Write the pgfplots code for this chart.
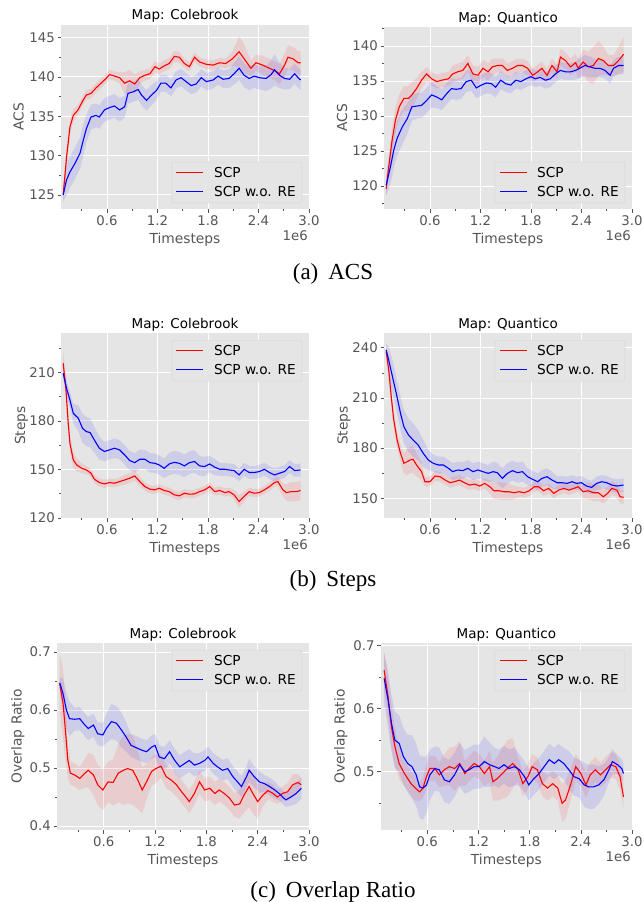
\documentclass[border=0pt]{standalone}
\usepackage{fontspec}
\setmainfont{Liberation Serif}
\newfontfamily\dv{DejaVu Sans}
\usepackage{pgfplots}
\usepackage{pgfplotstable}
\pgfplotsset{compat=1.18}
\usepgfplotslibrary{fillbetween}
\definecolor{bg}{HTML}{E5E5E5}
\definecolor{tk}{HTML}{555555}
\definecolor{lgd}{HTML}{D4D4D4}

\pgfplotstableread{
x m d
0.08 125.0 0.8
0.12 129.8 1.2
0.16 133.6 1.0
0.20 135.1 0.8
0.256 135.8 0.6
0.315 137.0 0.6
0.355 137.7 0.6
0.41 137.9 0.6
0.47 138.6 0.6
0.53 139.2 0.6
0.59 139.8 0.6
0.63 140.3 0.6
0.69 140.1 0.6
0.75 139.9 0.7
0.81 139.2 1.4
0.87 139.5 1.4
0.93 139.1 1.2
0.99 139.9 0.8
1.05 140.2 0.7
1.11 140.4 0.7
1.17 141.3 0.7
1.22 141.0 0.7
1.28 141.4 0.7
1.34 141.7 0.7
1.40 142.6 0.7
1.46 142.5 0.7
1.52 141.7 0.6
1.58 141.3 0.6
1.64 142.5 0.6
1.70 141.9 0.6
1.78 141.6 0.6
1.86 141.5 0.6
1.94 141.8 0.6
2.01 141.7 0.6
2.09 142.3 0.9
2.17 143.2 2.0
2.23 142.3 1.8
2.31 141.1 1.0
2.37 141.8 1.0
2.45 141.5 1.2
2.53 141.1 1.2
2.59 140.8 1.2
2.65 140.4 1.3
2.71 141.5 1.5
2.75 142.5 1.5
2.81 142.3 1.5
2.87 141.8 1.5
2.90 141.8 1.5
}\Aar
\pgfplotstableread{
x m d
0.08 125.0 0.8
0.12 126.9 2.0
0.16 127.9 2.0
0.22 129.0 2.0
0.28 130.3 2.0
0.32 132.0 2.0
0.355 133.4 1.8
0.41 134.9 1.6
0.47 135.1 1.5
0.51 134.9 1.5
0.57 135.8 1.5
0.63 136.1 1.5
0.69 136.3 1.5
0.75 135.8 1.5
0.81 136.2 1.4
0.85 137.9 1.3
0.91 138.1 1.3
0.97 138.4 1.3
1.01 137.7 1.3
1.07 137.0 1.3
1.13 137.7 1.3
1.19 138.3 1.2
1.24 139.2 1.1
1.30 139.2 1.1
1.36 138.6 1.1
1.42 139.6 1.1
1.48 139.9 1.1
1.54 139.4 1.1
1.60 138.9 1.1
1.66 139.1 1.1
1.72 139.9 1.1
1.78 139.4 1.1
1.86 139.6 1.1
1.92 140.1 1.1
1.98 139.7 1.1
2.05 139.8 1.2
2.11 140.4 1.4
2.17 141.1 1.5
2.23 140.2 1.5
2.29 139.8 1.5
2.35 140.1 1.5
2.41 139.9 1.5
2.49 139.8 1.6
2.55 140.3 1.8
2.59 140.9 2.0
2.65 140.2 1.6
2.71 139.8 1.4
2.77 139.7 1.3
2.83 140.4 1.3
2.87 139.9 1.3
2.90 139.6 1.3
}\Aab
\pgfplotstableread{
x m d
0.08 119.6 1.0
0.11 122.7 1.5
0.15 126.5 1.8
0.19 129.4 1.8
0.235 131.3 1.8
0.29 132.5 1.8
0.345 132.5 1.8
0.385 133.0 1.8
0.44 133.9 1.5
0.50 135.1 1.2
0.56 136.0 1.0
0.62 135.3 1.0
0.68 134.9 1.0
0.74 135.1 1.0
0.82 135.3 1.0
0.87 136.0 1.2
0.93 136.3 1.2
0.99 136.5 1.2
1.05 137.5 1.2
1.11 136.0 1.2
1.17 135.8 1.2
1.23 136.8 1.2
1.29 136.3 1.2
1.34 137.0 1.2
1.40 137.2 1.0
1.46 137.2 1.0
1.52 136.5 1.0
1.58 136.8 1.0
1.64 137.2 1.0
1.70 137.2 1.0
1.76 136.8 1.0
1.82 135.8 1.0
1.88 136.3 1.0
1.93 136.8 1.0
1.99 135.8 1.0
2.05 137.2 1.0
2.11 136.3 1.0
2.15 138.4 1.2
2.21 137.9 1.2
2.27 137.0 1.2
2.33 137.6 1.3
2.36 136.8 1.4
2.42 137.7 1.8
2.48 137.0 2.2
2.54 137.2 2.6
2.60 138.2 2.5
2.66 137.9 2.0
2.72 137.2 1.5
2.78 137.2 1.5
2.84 137.9 2.0
2.90 138.8 2.5
}\Abr
\pgfplotstableread{
x m d
0.08 120.1 1.5
0.13 122.7 2.5
0.17 125.1 2.5
0.21 126.8 2.5
0.27 128.4 2.5
0.33 129.6 2.2
0.385 131.3 2.0
0.44 131.4 1.8
0.50 131.5 1.8
0.56 132.2 1.8
0.62 133.0 1.8
0.68 132.7 1.6
0.74 132.3 1.5
0.80 133.2 1.5
0.855 133.9 1.5
0.91 133.8 1.5
0.97 133.9 1.5
1.03 134.9 1.5
1.09 135.1 1.5
1.15 134.0 1.5
1.21 134.4 1.5
1.27 134.7 1.5
1.33 134.6 1.5
1.38 134.1 1.5
1.44 135.1 1.3
1.50 134.6 1.2
1.56 134.4 1.2
1.62 135.1 1.2
1.68 134.9 1.2
1.74 135.3 1.2
1.80 135.6 1.2
1.85 135.3 1.2
1.91 135.5 1.2
1.97 135.1 1.2
2.03 135.3 1.2
2.09 136.0 1.2
2.15 136.5 1.2
2.21 136.3 1.2
2.27 136.3 1.2
2.33 136.5 1.3
2.38 136.8 1.4
2.44 137.2 1.5
2.50 137.0 1.5
2.56 136.8 1.3
2.62 136.8 1.2
2.68 136.5 1.2
2.74 135.8 1.2
2.78 136.8 1.2
2.84 137.2 1.2
2.90 137.2 1.2
}\Abb
\pgfplotstableread{
x m d
0.08 215.6 8
0.11 201.2 6
0.14 178.5 5
0.16 166.2 5
0.20 155.9 5
0.24 152.8 4
0.30 150.7 3
0.355 149.7 2.5
0.41 147.7 2.5
0.45 144.0 2.5
0.51 141.9 2.5
0.57 141.1 2.5
0.63 141.9 2.5
0.69 141.5 2.5
0.75 142.5 2.5
0.81 143.5 3
0.87 144.6 3
0.93 146.0 3
0.99 142.5 3
1.05 139.4 2.5
1.11 137.8 2.5
1.17 137.4 2.5
1.22 138.4 2.5
1.28 137.0 2.5
1.34 136.3 2.5
1.40 134.3 2.5
1.46 133.7 2.5
1.52 135.3 2.5
1.58 134.7 2.5
1.64 134.9 2.5
1.70 136.3 2.5
1.76 137.4 2.5
1.82 139.4 2.5
1.88 136.3 2.5
1.94 137.0 2.5
2.00 135.7 2.5
2.05 136.3 2.5
2.11 134.3 3
2.17 130.2 4
2.23 133.3 3
2.29 136.3 2.5
2.35 135.3 2.5
2.41 135.7 2.5
2.47 137.4 2.5
2.53 139.4 2.5
2.59 141.9 2.5
2.63 142.5 3
2.69 137.4 4
2.73 135.7 5
2.79 136.3 6
2.85 136.3 6
2.90 137.0 6
}\Bar
\pgfplotstableread{
x m d
0.08 209.4 3
0.12 200.1 5
0.16 192.9 5
0.20 184.7 6
0.26 181.6 8
0.31 175.4 9
0.355 173.4 9
0.40 172.8 9
0.45 168.2 8
0.51 163.1 7
0.57 161.1 6
0.63 162.1 6
0.69 163.1 6
0.75 162.1 6
0.81 159.0 6
0.87 155.5 6
0.93 154.2 6
0.99 156.3 6
1.05 156.3 6
1.11 154.2 6
1.17 153.8 6
1.22 152.8 6
1.28 150.7 6
1.34 153.4 7
1.40 154.4 7
1.46 153.8 7
1.52 152.2 7
1.58 154.2 7
1.64 154.9 7
1.70 152.2 6
1.76 151.8 6
1.82 153.4 5
1.88 151.4 5
1.94 150.1 4
2.00 150.1 4
2.05 149.7 4
2.11 149.3 4
2.17 146.6 4
2.23 150.1 4
2.29 148.1 4
2.35 148.1 4
2.41 148.7 4
2.47 150.1 4
2.53 148.1 4
2.59 146.6 4
2.65 147.7 4
2.71 148.7 4
2.77 151.8 4
2.83 149.3 4
2.90 149.7 4
}\Bab
\pgfplotstableread{
x m d
0.08 237.6 3
0.11 226.7 5
0.14 210.7 5
0.17 196.8 5
0.21 184.8 5
0.25 176.9 5
0.29 170.9 6
0.33 171.9 8
0.365 172.9 8
0.40 173.3 8
0.44 169.9 7
0.50 165.9 5
0.54 159.9 3
0.60 159.9 3
0.66 163.3 3
0.72 162.9 3
0.78 160.9 3
0.84 159.3 3
0.89 159.9 3
0.95 160.9 3
1.01 159.3 3
1.07 157.9 3
1.13 158.5 3
1.19 157.3 3
1.25 158.9 3
1.31 156.9 4
1.36 154.5 5
1.42 154.5 5
1.48 153.9 5
1.54 153.9 5
1.60 153.3 4
1.66 153.9 3
1.72 153.3 3
1.78 154.5 3
1.84 156.9 3
1.89 156.9 3
1.95 154.5 3
2.01 155.9 3
2.07 152.9 3
2.13 154.9 3
2.19 155.9 3
2.25 154.9 3
2.31 155.9 3
2.36 156.9 3
2.42 153.9 4
2.48 154.5 5
2.54 153.3 5
2.60 153.3 5
2.66 150.9 4
2.71 152.9 4
2.76 155.9 4
2.82 154.9 4
2.86 150.9 4
2.90 150.6 4
}\Bbr
\pgfplotstableread{
x m d
0.08 238.6 4
0.11 232.6 8
0.15 223.7 10
0.20 212.7 10
0.25 200.8 10
0.29 192.8 10
0.345 187.8 10
0.40 184.8 10
0.46 181.8 9
0.52 176.9 8
0.58 172.9 6
0.64 170.9 5
0.70 169.9 5
0.76 169.9 5
0.82 167.9 5
0.87 165.9 5
0.93 166.9 5
0.99 166.5 5
1.05 167.9 5
1.11 165.9 5
1.17 166.9 5
1.23 165.9 5
1.29 164.9 5
1.35 165.9 6
1.40 165.3 6
1.46 161.9 6
1.52 164.9 6
1.58 166.5 6
1.64 165.3 6
1.70 165.9 6
1.76 162.9 5
1.82 161.3 5
1.88 159.9 5
1.93 161.9 5
1.99 162.9 5
2.05 160.9 5
2.11 159.3 4
2.17 159.3 4
2.23 158.9 4
2.29 159.9 4
2.34 158.9 4
2.40 159.3 4
2.46 157.3 4
2.52 156.5 4
2.58 158.9 4
2.64 159.9 4
2.70 159.3 4
2.76 157.9 4
2.82 157.3 4
2.90 157.9 4
}\Bbb
\pgfplotstableread{
x m d
0.086 0.645 0.05
0.125 0.611 0.06
0.156 0.559 0.05
0.18 0.514 0.03
0.21 0.491 0.02
0.26 0.488 0.02
0.32 0.482 0.02
0.38 0.491 0.025
0.42 0.496 0.03
0.48 0.488 0.035
0.53 0.471 0.035
0.59 0.462 0.035
0.65 0.476 0.035
0.71 0.475 0.04
0.77 0.491 0.05
0.83 0.496 0.06
0.88 0.499 0.06
0.94 0.496 0.06
1.00 0.479 0.05
1.05 0.462 0.04
1.10 0.476 0.03
1.16 0.494 0.025
1.21 0.499 0.025
1.27 0.503 0.02
1.33 0.485 0.02
1.39 0.479 0.02
1.45 0.471 0.02
1.51 0.459 0.02
1.56 0.450 0.02
1.60 0.442 0.02
1.66 0.456 0.02
1.72 0.476 0.02
1.78 0.462 0.02
1.84 0.465 0.02
1.90 0.456 0.02
1.95 0.462 0.02
2.01 0.456 0.02
2.07 0.448 0.02
2.13 0.436 0.02
2.19 0.438 0.025
2.24 0.453 0.03
2.30 0.468 0.035
2.34 0.457 0.035
2.40 0.442 0.03
2.46 0.453 0.02
2.52 0.461 0.015
2.58 0.456 0.015
2.63 0.450 0.012
2.69 0.456 0.012
2.75 0.459 0.015
2.81 0.471 0.018
2.87 0.475 0.015
2.91 0.471 0.012
}\Car
\pgfplotstableread{
x m d
0.086 0.647 0.01
0.125 0.628 0.025
0.164 0.600 0.03
0.20 0.585 0.03
0.26 0.584 0.02
0.32 0.585 0.02
0.38 0.574 0.02
0.42 0.568 0.02
0.48 0.574 0.02
0.53 0.559 0.02
0.59 0.557 0.02
0.63 0.568 0.025
0.69 0.580 0.03
0.75 0.577 0.03
0.81 0.565 0.03
0.86 0.554 0.025
0.92 0.539 0.02
0.98 0.535 0.02
1.04 0.531 0.02
1.10 0.528 0.02
1.16 0.536 0.02
1.20 0.539 0.02
1.25 0.519 0.02
1.31 0.516 0.02
1.37 0.528 0.02
1.43 0.513 0.02
1.49 0.502 0.02
1.55 0.508 0.02
1.60 0.513 0.02
1.66 0.505 0.02
1.72 0.508 0.018
1.78 0.513 0.018
1.82 0.519 0.018
1.88 0.508 0.018
1.93 0.502 0.018
1.99 0.496 0.018
2.05 0.499 0.018
2.11 0.485 0.018
2.17 0.475 0.018
2.21 0.468 0.018
2.27 0.485 0.018
2.30 0.496 0.02
2.36 0.485 0.018
2.42 0.476 0.018
2.48 0.473 0.015
2.54 0.468 0.015
2.60 0.462 0.015
2.65 0.456 0.012
2.69 0.450 0.012
2.73 0.445 0.012
2.79 0.450 0.015
2.85 0.456 0.018
2.91 0.465 0.018
}\Cab
\pgfplotstableread{
x m d
0.094 0.661 0.03
0.14 0.619 0.035
0.18 0.571 0.035
0.22 0.540 0.03
0.27 0.513 0.025
0.32 0.500 0.02
0.37 0.489 0.02
0.41 0.481 0.02
0.46 0.474 0.02
0.51 0.468 0.015
0.55 0.474 0.015
0.59 0.492 0.02
0.63 0.505 0.02
0.69 0.505 0.02
0.74 0.495 0.02
0.80 0.503 0.025
0.86 0.508 0.03
0.92 0.505 0.035
0.98 0.513 0.035
1.04 0.497 0.02
1.09 0.505 0.02
1.15 0.513 0.02
1.21 0.508 0.02
1.27 0.497 0.02
1.33 0.508 0.025
1.37 0.484 0.03
1.42 0.489 0.035
1.48 0.497 0.04
1.54 0.505 0.045
1.60 0.513 0.04
1.66 0.505 0.02
1.72 0.481 0.02
1.78 0.492 0.02
1.83 0.508 0.02
1.89 0.503 0.02
1.95 0.481 0.02
2.01 0.474 0.02
2.07 0.481 0.02
2.13 0.474 0.02
2.18 0.450 0.03
2.22 0.455 0.03
2.28 0.479 0.025
2.34 0.508 0.02
2.40 0.497 0.02
2.46 0.479 0.02
2.51 0.495 0.02
2.57 0.503 0.02
2.63 0.495 0.02
2.69 0.503 0.02
2.75 0.511 0.02
2.81 0.508 0.02
2.86 0.492 0.02
2.90 0.460 0.02
}\Cbr
\pgfplotstableread{
x m d
0.094 0.648 0.04
0.14 0.614 0.045
0.18 0.577 0.045
0.22 0.550 0.045
0.27 0.545 0.045
0.32 0.524 0.045
0.37 0.513 0.045
0.42 0.508 0.05
0.47 0.495 0.05
0.51 0.476 0.05
0.55 0.474 0.05
0.59 0.479 0.045
0.63 0.495 0.04
0.69 0.505 0.035
0.74 0.503 0.035
0.80 0.487 0.035
0.86 0.484 0.035
0.92 0.495 0.035
0.98 0.511 0.035
1.04 0.500 0.035
1.09 0.503 0.035
1.15 0.508 0.035
1.21 0.508 0.035
1.27 0.516 0.04
1.33 0.511 0.035
1.39 0.508 0.03
1.44 0.505 0.03
1.50 0.511 0.03
1.56 0.505 0.03
1.62 0.508 0.03
1.68 0.503 0.025
1.74 0.492 0.025
1.79 0.479 0.025
1.85 0.489 0.025
1.91 0.497 0.025
1.97 0.508 0.025
2.03 0.519 0.025
2.09 0.513 0.025
2.14 0.519 0.025
2.20 0.513 0.025
2.26 0.503 0.03
2.32 0.492 0.03
2.38 0.489 0.03
2.44 0.479 0.035
2.49 0.476 0.035
2.55 0.476 0.035
2.61 0.479 0.03
2.67 0.487 0.025
2.73 0.503 0.02
2.77 0.516 0.02
2.83 0.511 0.015
2.88 0.505 0.015
2.90 0.497 0.015
}\Cbb

\newcommand\tickf{\dv\fontsize{13.3}{15}\selectfont}
\newcommand\labf{\dv\fontsize{13.8}{15}\selectfont}
\newcommand\titf{\dv\fontsize{13.5}{16}\selectfont}

\pgfplotsset{
  panel/.style={
    scale only axis, width=248pt, height=184pt,
    xmin=0.054, xmax=3.0,
    axis background/.style={fill=bg},
    axis line style={draw=none},
    xmajorgrids, ymajorgrids,
    major grid style={white, line width=0.8pt},
    xtick={0.6,1.2,1.8,2.4,3.0}, xticklabels={0.6,1.2,1.8,2.4,3.0},
    minor xtick={0.3,0.9,1.5,2.1,2.7},
    xtick pos=bottom, ytick pos=left, tick align=outside,
    major tick length=3.5pt, minor tick length=2pt,
    every tick/.style={tk, line width=0.6pt},
    /pgf/number format/assume math mode=true,
    ticklabel style={font=\tickf, text=tk},
    yticklabel style={inner sep=2.5pt},
    legend style={fill=bg, draw=lgd, rounded corners=2pt,
      font=\dv\fontsize{13.7}{15}\selectfont,
      inner xsep=4pt, inner ysep=3pt, row sep=3.5pt, column sep=8pt},
    legend cell align=left,
    legend image code/.code={\draw[##1, line width=1.3pt] (0pt,0.5pt) -- (27pt,0.5pt);},
  },
  legse/.style={legend style={at={(1,0)}, anchor=south east, xshift=-7pt, yshift=6pt}},
  legne/.style={legend style={at={(1,1)}, anchor=north east, xshift=-7pt, yshift=-7pt}},
}

\newcommand\band[3]{%
  \addplot[name path=u#2, draw=none, forget plot] table[x=x, y expr=\thisrow{m}+\thisrow{d}] {#1};
  \addplot[name path=l#2, draw=none, forget plot] table[x=x, y expr=\thisrow{m}-\thisrow{d}] {#1};
  \addplot[fill=#3, fill opacity=0.1, draw=none, forget plot] fill between[of=u#2 and l#2];
}
\newcommand\twolines[2]{%
  \addplot[red, line width=1.1pt] table[x=x, y=m] {#1};
  \addplot[blue, line width=1.1pt] table[x=x, y=m] {#2};
  \legend{SCP, SCP w.o. RE}
}
\newcommand\deco[4]{%
  \node[font=\titf, anchor=base, inner sep=0pt] at ([yshift=5pt]#1.north) {#2};
  \node[font=\labf, text=tk, anchor=base, inner sep=0pt] at ([yshift=-34pt]#1.south) {Timesteps};
  \node[font=\tickf, text=tk, anchor=base east, inner sep=0pt] at ([yshift=-31.7pt, xshift=-1pt]#1.south east) {1e6};
  \node[font=\labf, text=tk, rotate=90, anchor=base, inner sep=0pt] at ([xshift=-#4]#1.west) {#3};
}

\begin{document}
\begin{tikzpicture}

% Row 1
\begin{axis}[panel, legse, name=p1, at={(61pt,-209pt)}, anchor=south west,
  height=184pt, ymin=123.2, ymax=146.6,
  ytick={125,130,135,140,145}, minor ytick={127.5,132.5,137.5,142.5}]
  \band{\Aar}{a}{red}
  \band{\Aab}{b}{blue}
  \twolines{\Aar}{\Aab}
\end{axis}
\deco{p1}{Map: Colebrook}{ACS}{37.5pt}

\begin{axis}[panel, legse, name=p2, at={(384pt,-209pt)}, anchor=south west,
  height=182pt, ymin=116.7, ymax=142.7,
  ytick={120,125,130,135,140}, minor ytick={117.5,122.5,127.5,132.5,137.5,142.5}]
  \band{\Abr}{c}{red}
  \band{\Abb}{d}{blue}
  \twolines{\Abr}{\Abb}
\end{axis}
\deco{p2}{Map: Quantico}{ACS}{37pt}

% Row 2
\begin{axis}[panel, legne, name=p3, at={(61pt,-518pt)}, anchor=south west,
  height=185pt, ymin=120, ymax=234.3,
  ytick={120,150,180,210}, minor ytick={135,165,195,225}]
  \band{\Bar}{e}{red}
  \band{\Bab}{f}{blue}
  \twolines{\Bar}{\Bab}
\end{axis}
\deco{p3}{Map: Colebrook}{Steps}{36pt}

\begin{axis}[panel, legne, name=p4, at={(384pt,-518pt)}, anchor=south west,
  height=185pt, ymin=138.2, ymax=248.8,
  ytick={150,180,210,240}, minor ytick={165,195,225}]
  \band{\Bbr}{g}{red}
  \band{\Bbb}{h}{blue}
  \twolines{\Bbr}{\Bbb}
\end{axis}
\deco{p4}{Map: Quantico}{Steps}{36.3pt}

% Row 3
\begin{axis}[panel, legne, name=p5, at={(57pt,-830pt)}, anchor=south west,
  width=252pt, height=187pt, ymin=0.393, ymax=0.7155,
  ytick={0.4,0.5,0.6,0.7}, minor ytick={0.45,0.55,0.65},
  yticklabel style={/pgf/number format/fixed, /pgf/number format/precision=1, /pgf/number format/fixed zerofill}]
  \band{\Car}{i}{red}
  \band{\Cab}{j}{blue}
  \twolines{\Car}{\Cab}
\end{axis}
\deco{p5}{Map: Colebrook}{Overlap Ratio}{35.3pt}

\begin{axis}[panel, legne, name=p6, at={(380.7pt,-830pt)}, anchor=south west,
  width=251.3pt, height=187pt, ymin=0.4075, ymax=0.704,
  ytick={0.5,0.6,0.7}, minor ytick={0.45,0.55,0.65},
  yticklabel style={/pgf/number format/fixed, /pgf/number format/precision=1, /pgf/number format/fixed zerofill}]
  \band{\Cbr}{k}{red}
  \band{\Cbb}{l}{blue}
  \twolines{\Cbr}{\Cbb}
\end{axis}
\deco{p6}{Map: Quantico}{Overlap Ratio}{36pt}

% Captions
\node[anchor=base, font=\fontsize{23}{26}\selectfont, inner sep=0pt] at (333pt,-279.3pt) {(a)\hspace{10pt}ACS};
\node[anchor=base, font=\fontsize{23}{26}\selectfont, inner sep=0pt] at (333pt,-586pt) {(b)\hspace{10pt}Steps};
\node[anchor=base, font=\fontsize{23}{26}\selectfont, inner sep=0pt] at (333pt,-897.3pt) {(c)\hspace{10pt}Overlap Ratio};

\pgfresetboundingbox
\path[use as bounding box] (0,0) rectangle (644pt,-902pt);
\end{tikzpicture}
\end{document}
